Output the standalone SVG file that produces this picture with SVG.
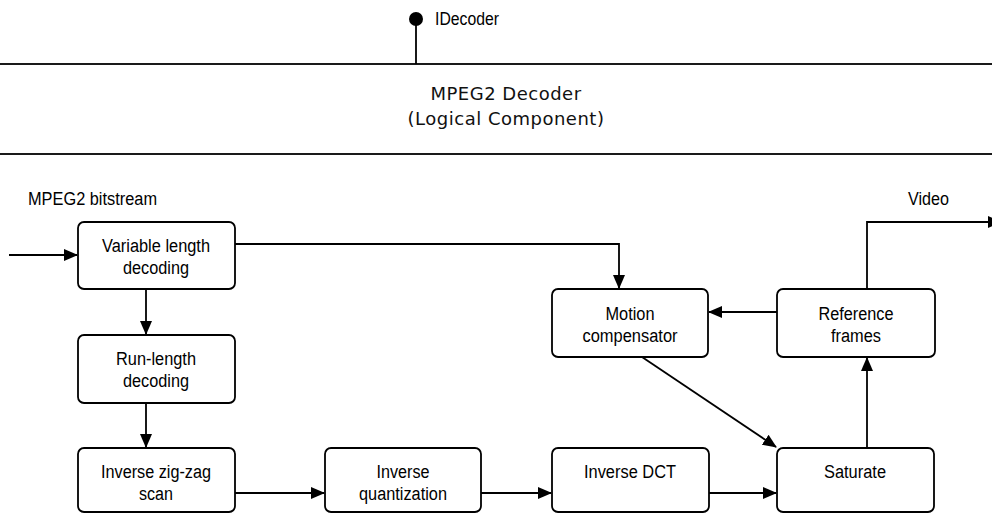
<svg xmlns="http://www.w3.org/2000/svg" width="992" height="514" viewBox="0 0 992 514">
  <style>
    .box { fill: #ffffff; stroke: #000000; stroke-width: 1.8; }
    .lbl { font-family: "Liberation Sans", Arial, sans-serif; font-size: 18px; fill: #000000; text-anchor: middle; }
    .out { font-family: "Liberation Sans", Arial, sans-serif; font-size: 18px; fill: #000000; }
    .title { font-family: "DejaVu Sans", Verdana, sans-serif; font-size: 18px; letter-spacing: 0.5px; fill: #111111; text-anchor: middle; }
    .wire { fill: none; stroke: #000000; stroke-width: 1.8; }
  </style>
  <defs>
    <marker id="arrow" markerUnits="userSpaceOnUse" markerWidth="15" markerHeight="13" refX="13" refY="6" orient="auto">
      <path d="M0,0 L14,6 L0,12 z" fill="#000000"/>
    </marker>
  </defs>

  <rect width="992" height="514" fill="#ffffff"/>

  <!-- logical component band with its interface -->
  <g id="mpeg2-decoder">
    <rect x="-4" y="64" width="1000" height="90" fill="#ffffff" stroke="#1a1a1a" stroke-width="2"/>
    <text class="title" x="506" y="100">MPEG2 Decoder</text>
    <text class="title" x="506" y="125">(Logical Component)</text>
  </g>
  <g id="idecoder">
    <line x1="416" y1="19" x2="416" y2="64" stroke="#000000" stroke-width="1.8"/>
    <circle cx="416" cy="19" r="7" fill="#000000"/>
    <text class="out" x="435" y="25" textLength="64" lengthAdjust="spacingAndGlyphs">IDecoder</text>
  </g>

  <!-- outer labels -->
  <text class="out" x="28" y="205" textLength="129" lengthAdjust="spacingAndGlyphs">MPEG2 bitstream</text>
  <text class="out" x="908" y="205" textLength="41" lengthAdjust="spacingAndGlyphs">Video</text>

  <!-- processing stages -->
  <g id="vld">
    <rect class="box" x="78" y="222" width="157" height="67" rx="6"/>
    <text class="lbl" x="156" y="252" textLength="108" lengthAdjust="spacingAndGlyphs">Variable length</text>
    <text class="lbl" x="156" y="274" textLength="66" lengthAdjust="spacingAndGlyphs">decoding</text>
  </g>
  <g id="rld">
    <rect class="box" x="78" y="335" width="157" height="68" rx="6"/>
    <text class="lbl" x="156" y="365" textLength="80" lengthAdjust="spacingAndGlyphs">Run-length</text>
    <text class="lbl" x="156" y="387" textLength="66" lengthAdjust="spacingAndGlyphs">decoding</text>
  </g>
  <g id="izz">
    <rect class="box" x="78" y="448" width="157" height="64" rx="6"/>
    <text class="lbl" x="156" y="478" textLength="110" lengthAdjust="spacingAndGlyphs">Inverse zig-zag</text>
    <text class="lbl" x="156" y="500" textLength="34" lengthAdjust="spacingAndGlyphs">scan</text>
  </g>
  <g id="iq">
    <rect class="box" x="325" y="448" width="156" height="64" rx="6"/>
    <text class="lbl" x="403" y="478" textLength="53" lengthAdjust="spacingAndGlyphs">Inverse</text>
    <text class="lbl" x="403" y="500" textLength="88" lengthAdjust="spacingAndGlyphs">quantization</text>
  </g>
  <g id="idct">
    <rect class="box" x="552" y="448" width="157" height="64" rx="6"/>
    <text class="lbl" x="630" y="478" textLength="92" lengthAdjust="spacingAndGlyphs">Inverse DCT</text>
  </g>
  <g id="saturate">
    <rect class="box" x="777" y="448" width="157" height="64" rx="6"/>
    <text class="lbl" x="855" y="478" textLength="62" lengthAdjust="spacingAndGlyphs">Saturate</text>
  </g>
  <g id="motion">
    <rect class="box" x="552" y="289" width="156" height="68" rx="6"/>
    <text class="lbl" x="630" y="320" textLength="49" lengthAdjust="spacingAndGlyphs">Motion</text>
    <text class="lbl" x="630" y="342" textLength="95" lengthAdjust="spacingAndGlyphs">compensator</text>
  </g>
  <g id="reference">
    <rect class="box" x="777" y="289" width="158" height="68" rx="6"/>
    <text class="lbl" x="856" y="320" textLength="75" lengthAdjust="spacingAndGlyphs">Reference</text>
    <text class="lbl" x="856" y="342" textLength="50" lengthAdjust="spacingAndGlyphs">frames</text>
  </g>

  <!-- data flow -->
  <g id="connectors">
    <path class="wire" d="M9,255 H77" marker-end="url(#arrow)"/>
    <path class="wire" d="M235,244 H619 V288" marker-end="url(#arrow)"/>
    <path class="wire" d="M146,289 V334" marker-end="url(#arrow)"/>
    <path class="wire" d="M146,403 V447" marker-end="url(#arrow)"/>
    <path class="wire" d="M235,493 H324" marker-end="url(#arrow)"/>
    <path class="wire" d="M481,493 H551" marker-end="url(#arrow)"/>
    <path class="wire" d="M709,493 H776" marker-end="url(#arrow)"/>
    <path class="wire" d="M642,357 L776,447" marker-end="url(#arrow)"/>
    <path class="wire" d="M867,448 V358" marker-end="url(#arrow)"/>
    <path class="wire" d="M777,312 H709" marker-end="url(#arrow)"/>
    <path class="wire" d="M867,289 V222 H1001" marker-end="url(#arrow)"/>
  </g>
</svg>
